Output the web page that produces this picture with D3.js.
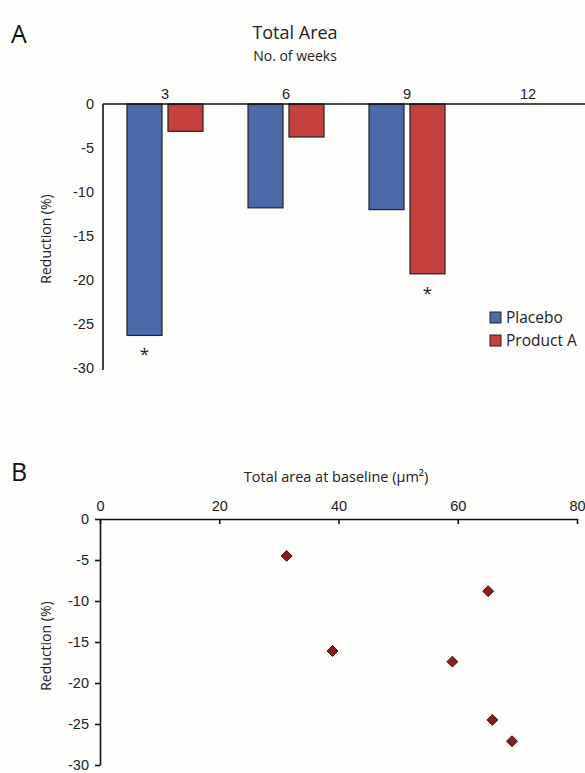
<!DOCTYPE html>
<html>
<head>
<meta charset="utf-8">
<script src="https://cdn.jsdelivr.net/npm/d3@7"></script>
<style>
  body { margin: 0; background: #fdfdfb; }
  svg { display: block; font-family: "Open Sans", "Noto Sans", sans-serif; }
  .axis text { font-size: 14.5px; fill: #222; }
  .axis path, .axis line { stroke: #111; stroke-width: 1.6px; }
</style>
</head>
<body>
<div id="chart"></div>
<script>
// Panel A data - % reduction in total area by week
const weeks = ["3", "6", "9", "12"];
const series = ["Placebo", "Product A"];
const placebo = [-26.3, -11.8, -12.0, null];
const productA = [-3.1, -3.75, -19.3, null];
const starred = [["3", "Placebo"], ["9", "Product A"]];
const yTicksA = [0, -5, -10, -15, -20, -25, -30];

// Panel B data - baseline area vs reduction
const baseArea = [31.3, 39.0, 59.1, 65.1, 65.8, 69.1];
const reduction = [-4.5, -16.1, -17.4, -8.8, -24.5, -27.1];
const xTicksB = [0, 20, 40, 60, 80];
const yTicksB = [0, -5, -10, -15, -20, -25, -30];

const colors = { "Placebo": "#4a6aaa", "Product A": "#c6403d" };

const width = 585, height = 773;

// plain hyphen for negatives, like the original figure
const fmt = d => String(d);

const svg = d3.select("#chart")
    .append("svg")
    .attr("width", width)
    .attr("height", height);

/* ---------- Panel A ---------- */

svg.append("text").attr("x", 11).attr("y", 43)
    .attr("font-size", "25px").attr("fill", "#111").text("A");

svg.append("text").attr("x", 295).attr("y", 39)
    .attr("text-anchor", "middle").attr("font-size", "18px").attr("fill", "#222")
    .text("Total Area");
svg.append("text").attr("x", 295).attr("y", 61)
    .attr("text-anchor", "middle").attr("font-size", "14px").attr("fill", "#222")
    .text("No. of weeks");

const yA = d3.scaleLinear().domain([-30, 0]).range([368, 104]);
const xA = d3.scaleBand().domain(weeks).range([104.5, 588.5]);
const xInner = d3.scaleBand().domain(series).range([-38, 38]).paddingInner(0.146);

const barData = [];
weeks.forEach((w, i) => {
  if (placebo[i] != null) barData.push({ week: w, s: "Placebo", v: placebo[i] });
  if (productA[i] != null) barData.push({ week: w, s: "Product A", v: productA[i] });
});

const center = w => xA(w) + xA.bandwidth() / 2;

svg.selectAll(".bar")
  .data(barData)
  .enter()
  .append("rect")
    .attr("class", "bar")
    .attr("x", d => center(d.week) + xInner(d.s))
    .attr("y", yA(0))
    .attr("width", xInner.bandwidth())
    .attr("height", d => yA(d.v) - yA(0))
    .attr("fill", d => colors[d.s])
    .attr("stroke", "#222")
    .attr("stroke-width", 1.2);

// significance asterisks
svg.selectAll(".star")
  .data(starred)
  .enter()
  .append("text")
    .attr("x", d => center(d[0]) + xInner(d[1]) + xInner.bandwidth() / 2)
    .attr("y", d => {
      const i = weeks.indexOf(d[0]);
      const v = d[1] === "Placebo" ? placebo[i] : productA[i];
      return yA(v) + 25;
    })
    .attr("text-anchor", "middle").attr("font-size", "17px").attr("fill", "#222")
    .text("*");

// y axis (no tick marks)
svg.append("g")
    .attr("class", "axis")
    .attr("transform", "translate(103,0)")
    .call(d3.axisLeft(yA).tickValues(yTicksA).tickFormat(fmt).tickSize(0).tickPadding(9))
    .call(g => g.select(".domain").attr("d", `M0,${yA(0)}V${yA(-30) + 2}`));

// x axis at top, labels above
svg.append("g")
    .attr("class", "axis")
    .attr("transform", `translate(0,${yA(0)})`)
    .call(d3.axisTop(xA).tickSize(0).tickPadding(5))
    .call(g => g.select(".domain").attr("d", `M103,0H${width}`));

svg.append("text")
    .attr("transform", `translate(51,${(yA(0) + yA(-30)) / 2 + 3}) rotate(-90)`)
    .attr("text-anchor", "middle").attr("font-size", "14px").attr("fill", "#222")
    .text("Reduction (%)");

// legend
const legend = svg.selectAll(".legend")
  .data(series)
  .enter()
  .append("g")
    .attr("transform", (d, i) => `translate(490,${312 + i * 23})`);
legend.append("rect")
    .attr("width", 11).attr("height", 11)
    .attr("fill", d => colors[d]).attr("stroke", "#222").attr("stroke-width", 1);
legend.append("text")
    .attr("x", 16).attr("y", 11)
    .attr("font-size", "15.5px").attr("fill", "#222")
    .text(d => d);

/* ---------- Panel B ---------- */

svg.append("text").attr("x", 11).attr("y", 481)
    .attr("font-size", "25px").attr("fill", "#111").text("B");

svg.append("text").attr("x", 336).attr("y", 482)
    .attr("text-anchor", "middle").attr("font-size", "14.5px").attr("fill", "#222")
    .text("Total area at baseline (µm²)");

const xB = d3.scaleLinear().domain([0, 80]).range([100, 577]);
const yB = d3.scaleLinear().domain([-30, 0]).range([765, 519]);

svg.append("g")
    .attr("class", "axis")
    .attr("transform", `translate(0,${yB(0)})`)
    .call(d3.axisTop(xB).tickValues(xTicksB).tickSizeInner(-5).tickSizeOuter(0).tickPadding(8));

svg.append("g")
    .attr("class", "axis")
    .attr("transform", `translate(${xB(0)},0)`)
    .call(d3.axisLeft(yB).tickValues(yTicksB).tickFormat(fmt).tickSizeInner(5).tickSizeOuter(0).tickPadding(6));

svg.append("text")
    .attr("transform", `translate(51,${yB(-15.5)}) rotate(-90)`)
    .attr("text-anchor", "middle").attr("font-size", "14px").attr("fill", "#222")
    .text("Reduction (%)");

const diamond = d3.symbol().type(d3.symbolDiamond2).size(75);

svg.selectAll(".pt")
  .data(baseArea.map((x, i) => ({ x: x, y: reduction[i] })))
  .enter()
  .append("path")
    .attr("class", "pt")
    .attr("d", diamond)
    .attr("transform", d => `translate(${xB(d.x)},${yB(d.y)})`)
    .attr("fill", "#8e1c1e")
    .attr("stroke", "#3a0d0d")
    .attr("stroke-width", 1);
</script>
</body>
</html>
